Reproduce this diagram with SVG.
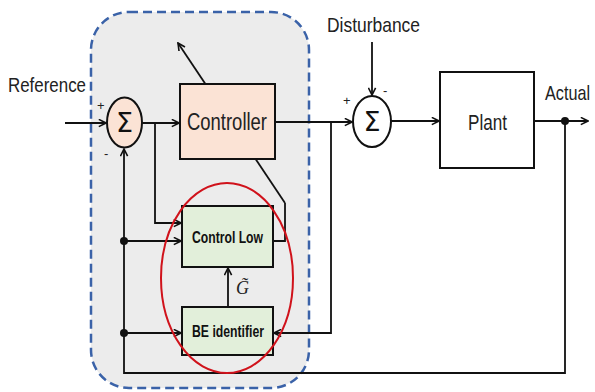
<svg xmlns="http://www.w3.org/2000/svg" width="595" height="392" viewBox="0 0 595 392">
<style>
.ln{fill:none;stroke:#111;stroke-width:1.8}
.box{stroke:#111;stroke-width:2}
.t{font-family:"Liberation Sans",Arial,sans-serif;fill:#222}
.tb{font-family:"Liberation Sans",Arial,sans-serif;font-weight:bold;fill:#111}
.sg{font-family:"DejaVu Sans",sans-serif;font-size:27px;fill:#111;text-anchor:middle}
.sgn{font-family:"Liberation Sans",Arial,sans-serif;font-size:13px;fill:#222}
</style>
<defs>
<marker id="ar" viewBox="0 0 10 10" refX="9" refY="5" markerWidth="9" markerHeight="9" markerUnits="userSpaceOnUse" orient="auto">
<path d="M1,1 L9,5 L1,9" fill="none" stroke="#111" stroke-width="1.8"/>
</marker>
</defs>
<g id="adaptive-region">
<rect x="91" y="12" width="218" height="376" rx="38" ry="38" fill="#ececec" stroke="#3a62a8" stroke-width="2.5" stroke-dasharray="9 5"/>
</g>
<g id="connectors">
<line class="ln" x1="285" y1="203" x2="178" y2="43" marker-end="url(#ar)"/>
<polyline class="ln" points="273,241 285,241 285,203"/>
<line class="ln" x1="65" y1="123" x2="106" y2="123" marker-end="url(#ar)"/>
<line class="ln" x1="142" y1="123" x2="179" y2="123" marker-end="url(#ar)"/>
<polyline class="ln" points="155,123 155,223 181,223" marker-end="url(#ar)"/>
<polyline class="ln" points="565,121 565,373 124,373 124,149" marker-end="url(#ar)"/>
<line class="ln" x1="124" y1="241" x2="181" y2="241" marker-end="url(#ar)"/>
<line class="ln" x1="124" y1="333" x2="181" y2="333" marker-end="url(#ar)"/>
<line class="ln" x1="275" y1="122" x2="352" y2="122" marker-end="url(#ar)"/>
<polyline class="ln" points="331,122 331,333 274,333" marker-end="url(#ar)"/>
<line class="ln" x1="372" y1="42" x2="372" y2="95" marker-end="url(#ar)"/>
<line class="ln" x1="391" y1="121" x2="439" y2="121" marker-end="url(#ar)"/>
<line class="ln" x1="534" y1="121" x2="588" y2="121" marker-end="url(#ar)"/>
<line class="ln" x1="228" y1="307" x2="228" y2="268" marker-end="url(#ar)"/>
<circle cx="565" cy="121" r="4" fill="#111"/>
<circle cx="124" cy="241" r="4" fill="#111"/>
<circle cx="124" cy="333" r="4" fill="#111"/>
<text x="236" y="294" font-family="Liberation Serif,serif" font-style="italic" font-size="18" fill="#222">G&#x303;</text>
</g>
<g id="sum1">
<ellipse cx="124.5" cy="122.5" rx="17.5" ry="25" fill="#fbe3d5" stroke="#111" stroke-width="2"/>
<text class="sg" x="124.5" y="132">Σ</text>
<text class="sgn" x="97" y="110">+</text>
<text class="sgn" x="104" y="158">-</text>
</g>
<g id="controller">
<rect class="box" x="180" y="84" width="95" height="75" fill="#fbe3d5"/>
<text class="t" x="187" y="130" font-size="23" textLength="80" lengthAdjust="spacingAndGlyphs">Controller</text>
</g>
<g id="control-low">
<rect class="box" x="182" y="206" width="91" height="61" fill="#e2efda"/>
<text class="tb" x="192" y="243" font-size="16" textLength="71" lengthAdjust="spacingAndGlyphs">Control Low</text>
</g>
<g id="be-identifier">
<rect class="box" x="182" y="307" width="91" height="48" fill="#e2efda"/>
<text class="tb" x="192" y="337" font-size="16" textLength="72" lengthAdjust="spacingAndGlyphs">BE identifier</text>
</g>
<g id="estimator-ring">
<ellipse cx="227" cy="278" rx="66" ry="95" fill="none" stroke="#d0121b" stroke-width="2"/>
</g>
<g id="sum2">
<ellipse cx="372" cy="121.5" rx="19" ry="25.5" fill="#fff" stroke="#111" stroke-width="2"/>
<text class="sg" x="372" y="131">Σ</text>
<text class="sgn" x="343" y="105">+</text>
<text class="sgn" x="383" y="95">-</text>
</g>
<g id="plant">
<rect class="box" x="440" y="72" width="94" height="96" fill="#fff"/>
<text class="t" x="468" y="130" font-size="22" textLength="39" lengthAdjust="spacingAndGlyphs">Plant</text>
</g>
<g id="labels">
<text class="t" x="8" y="92" font-size="21" textLength="78" lengthAdjust="spacingAndGlyphs">Reference</text>
<text class="t" x="327" y="32" font-size="21" textLength="93" lengthAdjust="spacingAndGlyphs">Disturbance</text>
<text class="t" transform="translate(545,100) scale(1,1.22)" x="0" y="0" font-size="17" textLength="45" lengthAdjust="spacingAndGlyphs">Actual</text>
</g>
</svg>
